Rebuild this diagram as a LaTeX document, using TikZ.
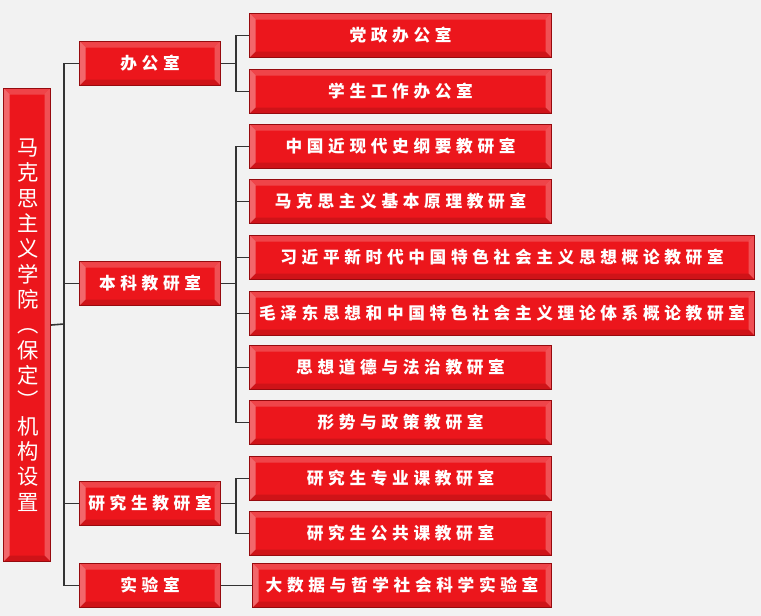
\documentclass[tikz,border=0pt]{standalone}
\usepackage{fontspec}
\newfontfamily\cjk{Noto Sans CJK SC}
\newfontfamily\cjkwide[LetterSpace=28]{Noto Sans CJK SC}
\usetikzlibrary{positioning,calc}
\definecolor{boxred}{RGB}{236,22,28}
\definecolor{edgered}{RGB}{150,10,14}
\definecolor{bg}{RGB}{242,242,242}
\tikzset{
  unit/.style={draw=edgered, fill=boxred, text=white, font=\cjkwide\bfseries\fontsize{12.5}{14}\selectfont,
    anchor=north west, inner sep=0pt, line width=0.8pt,
    path picture={
      \fill[white,opacity=0.35] (path picture bounding box.north west) -- ++(4.5pt,-4.5pt) |- ($(path picture bounding box.south west)+(4.5pt,4.5pt)$) -- (path picture bounding box.south west) -- cycle;
      \fill[white,opacity=0.25] (path picture bounding box.north east) -- ++(-4.5pt,-4.5pt) |- ($(path picture bounding box.south east)+(-4.5pt,4.5pt)$) -- (path picture bounding box.south east) -- cycle;
      \fill[white,opacity=0.2] (path picture bounding box.north west) -- ++(4.5pt,-4.5pt) -| ($(path picture bounding box.north east)+(-4.5pt,-4.5pt)$) -- (path picture bounding box.north east) -- cycle;
      \fill[black,opacity=0.12] (path picture bounding box.south west) -- ++(4.5pt,4.5pt) -| ($(path picture bounding box.south east)+(-4.5pt,4.5pt)$) -- (path picture bounding box.south east) -- cycle;
    }},
  conn/.style={draw=black!80, line width=1.2pt}
}
\begin{document}
\begin{tikzpicture}[x=0.75pt,y=-0.75pt]
\fill[bg] (0,0) rectangle (761,616);
\useasboundingbox (0,0) rectangle (761,616);
% root
\node[unit, minimum width=35.25pt, minimum height=354.75pt, font=\cjk\fontsize{16}{19}\selectfont, text width=14pt, align=center] (root) at (3,88)
  {马\\克\\思\\主\\义\\学\\院\\︵\\保\\定\\︶\\机\\构\\设\\置};
% first level
\node[unit, minimum width=105.75pt, minimum height=33pt] (office) at (79,41) {办公室};
\node[unit, minimum width=105.75pt, minimum height=33pt] (ugrad) at (79,261) {本科教研室};
\node[unit, minimum width=105.75pt, minimum height=33pt] (grad) at (79,481) {研究生教研室};
\node[unit, minimum width=105.75pt, minimum height=33pt] (lab) at (79,563) {实验室};
% second level
\node[unit, minimum width=226.5pt, minimum height=33pt] (party) at (249,13) {党政办公室};
\node[unit, minimum width=226.5pt, minimum height=33pt] (student) at (249,69) {学生工作办公室};
\node[unit, minimum width=226.5pt, minimum height=33pt] (history) at (249,124) {中国近现代史纲要教研室};
\node[unit, minimum width=226.5pt, minimum height=33pt] (marx) at (249,179) {马克思主义基本原理教研室};
\node[unit, minimum width=378.75pt, minimum height=33pt] (xi) at (249,235) {习近平新时代中国特色社会主义思想概论教研室};
\node[unit, minimum width=378.75pt, minimum height=33pt] (mao) at (249,291) {毛泽东思想和中国特色社会主义理论体系概论教研室};
\node[unit, minimum width=226.5pt, minimum height=33pt] (ethics) at (249,345) {思想道德与法治教研室};
\node[unit, minimum width=226.5pt, minimum height=33pt] (policy) at (249,400) {形势与政策教研室};
\node[unit, minimum width=226.5pt, minimum height=33pt] (major) at (249,456) {研究生专业课教研室};
\node[unit, minimum width=226.5pt, minimum height=33pt] (common) at (249,511) {研究生公共课教研室};
\node[unit, minimum width=224.25pt, minimum height=33pt] (data) at (252,563) {大数据与哲学社会科学实验室};
% connectors
\coordinate (bus) at (64,324);
\draw[conn] (root.east) -- (bus);
\foreach \n in {office,ugrad,grad,lab}
  \draw[conn] (bus) |- (\n.west);
\foreach \p/\c in {office/party,office/student,ugrad/history,ugrad/marx,ugrad/xi,ugrad/mao,ugrad/ethics,ugrad/policy,grad/major,grad/common}
  \draw[conn] (\p.east) -- ++(11.25pt,0) |- (\c.west);
\draw[conn] (lab.east) -- (data.west);
\end{tikzpicture}
\end{document}
